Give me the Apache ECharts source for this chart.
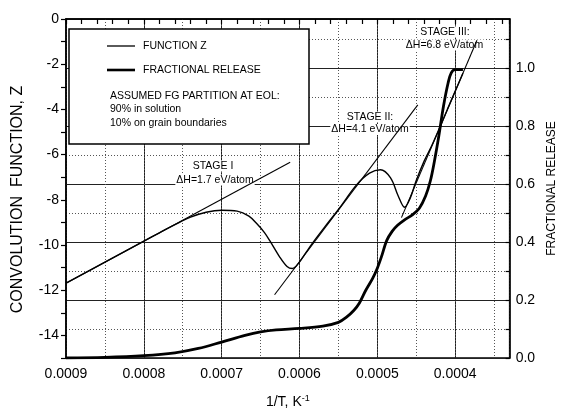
<!DOCTYPE html>
<html>
<head>
<meta charset="UTF-8">
<title>Convolution function and fractional release</title>
<script src="https://cdn.jsdelivr.net/npm/echarts@6.0.0/dist/echarts.min.js"></script>
<style>
  html, body { margin: 0; padding: 0; background: #fff; }
  #chart { width: 566px; height: 414px; }
</style>
</head>
<body>
<div id="chart"></div>
<script>
// convolution function Z vs 1/T (K^-1)
const zInvT = [0.0009, 0.00085, 0.0008, 0.00078, 0.00076, 0.00074, 0.00072, 0.0007, 0.00068, 0.000665,
  0.000655, 0.000645, 0.000638, 0.000626, 0.000616, 0.000609, 0.000601, 0.000592, 0.000584, 0.000568,
  0.000549, 0.000527, 0.00051, 0.000496, 0.000483, 0.000473, 0.000465, 0.000458, 0.00045, 0.00044,
  0.00043, 0.00042, 0.00041, 0.0004, 0.00039];
const zValues = [-11.69, -10.76, -9.83, -9.46, -9.1, -8.77, -8.55, -8.46, -8.5, -8.72,
  -9.05, -9.45, -9.82, -10.5, -10.95, -11.04, -10.8, -10.35, -9.95, -9.22,
  -8.38, -7.35, -6.82, -6.67, -7.03, -7.84, -8.33, -7.95, -7.15, -6.3,
  -5.6, -4.82, -4.0, -3.2, -2.4];

// fractional release vs 1/T
const relInvT = [0.0009, 0.00085, 0.0008, 0.00076, 0.00073, 0.0007, 0.00067, 0.00065, 0.00063, 0.0006,
  0.00057, 0.00055, 0.00054, 0.00053, 0.000523, 0.000515, 0.000506, 0.0005, 0.000494, 0.000488,
  0.000481, 0.000474, 0.000465, 0.000455, 0.000446, 0.000438, 0.000432, 0.000427, 0.000421, 0.000415,
  0.000409, 0.000405, 0.0004, 0.00039];
const relValues = [0.0, 0.002, 0.008, 0.018, 0.033, 0.055, 0.078, 0.09, 0.097, 0.102,
  0.11, 0.123, 0.14, 0.165, 0.19, 0.233, 0.275, 0.31, 0.355, 0.405,
  0.437, 0.458, 0.477, 0.494, 0.517, 0.559, 0.61, 0.674, 0.766, 0.869,
  0.95, 0.984, 0.995, 0.995];

// tangent lines of the three stages (start, end)
const stage1InvT = [0.0009, 0.000612];
const stage1Z = [-11.69, -6.34];
const stage2InvT = [0.000632, 0.000448];
const stage2Z = [-12.2, -3.8];
const stage3InvT = [0.000469, 0.000372];
const stage3Z = [-8.79, -0.94];

const legendNames = ['FUNCTION Z', 'FRACTIONAL RELEASE'];
const noteLines = ['ASSUMED FG PARTITION AT EOL:', '90% in solution', '10% on grain boundaries'];
const stageTitles = ['STAGE I', 'STAGE II:', 'STAGE III:'];
const stageEnergies = ['\u0394H=1.7 eV/atom', '\u0394H=4.1 eV/atom', '\u0394H=6.8 eV/atom'];

const FONT = 'Liberation Sans, Arial, Helvetica, sans-serif';
const SMALL = '10.5px ' + FONT;

// x axis is drawn in units of -1e-4 K^-1 so that it runs 0.0009 -> 0.00033 left to right
const toX = v => -v * 1e4;
const pairs = (xs, ys) => xs.map((x, i) => [toX(x), ys[i]]);

const chart = echarts.init(document.getElementById('chart'));

const xBase = { type: 'value', min: -9, max: -3.3, position: 'bottom' };
const noLine = { show: false };

// text boxes: legend, note and stage labels
const graphics = [
  { type: 'rect', z: 3, shape: { x: 69, y: 29, width: 240, height: 115 },
    style: { fill: '#fff', stroke: '#000', lineWidth: 1.5 } },
  { type: 'line', z: 4, shape: { x1: 107, y1: 46, x2: 135, y2: 46 }, style: { stroke: '#000', lineWidth: 1.3 } },
  { type: 'line', z: 4, shape: { x1: 107, y1: 70, x2: 135, y2: 70 }, style: { stroke: '#000', lineWidth: 2.6 } },
  { type: 'text', z: 4, style: { x: 143, y: 46, text: legendNames[0], verticalAlign: 'middle', font: SMALL, fill: '#000' } },
  { type: 'text', z: 4, style: { x: 143, y: 70, text: legendNames[1], verticalAlign: 'middle', font: SMALL, fill: '#000' } },
  { type: 'text', z: 4, style: { x: 110, y: 96.5, text: noteLines[0], verticalAlign: 'middle', font: SMALL, fill: '#000' } },
  { type: 'text', z: 4, style: { x: 110, y: 109.5, text: noteLines[1], verticalAlign: 'middle', font: SMALL, fill: '#000' } },
  { type: 'text', z: 4, style: { x: 110, y: 123, text: noteLines[2], verticalAlign: 'middle', font: SMALL, fill: '#000' } }
];
const stagePos = [[213, 166, 215, 180], [370, 117, 370, 129.5], [445, 32, 444.5, 45]];
stagePos.forEach((p, i) => {
  graphics.push({
    type: 'text', z: 1, style: { x: p[0], y: p[1], text: stageTitles[i], align: 'center', verticalAlign: 'middle',
      font: SMALL, fill: '#000', backgroundColor: '#fff', padding: [0, 1] }
  });
  graphics.push({
    type: 'text', z: 1, style: { x: p[2], y: p[3], text: stageEnergies[i], align: 'center', verticalAlign: 'middle',
      font: SMALL, fill: '#000', backgroundColor: '#fff', padding: [0, 1] }
  });
});

const option = {
  backgroundColor: '#fff',
  animation: false,
  textStyle: { fontFamily: FONT },
  grid: { left: 66, right: 41, top: 19, bottom: 55, show: true, borderColor: '#000', borderWidth: 1.5 },
  xAxis: [
    // minor ticks every 0.00002
    Object.assign({}, xBase, {
      interval: 0.2,
      axisLine: { lineStyle: { color: '#000', width: 1.5 } },
      axisTick: { show: true, length: 5, lineStyle: { color: '#000', width: 1.2 } },
      axisLabel: { show: false },
      splitLine: { show: false }
    }),
    // labels and solid grid every 0.0001
    Object.assign({}, xBase, {
      interval: 1,
      axisLine: noLine, axisTick: noLine,
      axisLabel: {
        show: true, fontSize: 14, color: '#000', margin: 9, showMaxLabel: false,
        formatter: v => (v < -3.5 ? (-v / 1e4).toFixed(4) : '')
      },
      splitLine: { show: true, lineStyle: { color: '#222', width: 1 } },
      name: '{b|1/T, K}{sup|-1}',
      nameLocation: 'middle', nameGap: 36,
      nameTextStyle: { rich: { b: { fontSize: 14, color: '#000' }, sup: { fontSize: 9, color: '#000', padding: [0, 0, 7, 0] } } }
    }),
    // dotted grid at half steps
    Object.assign({}, xBase, {
      interval: 0.5,
      axisLine: noLine, axisTick: noLine, axisLabel: noLine,
      splitLine: { show: true, lineStyle: { color: '#555', width: 1, type: [1, 2] } }
    })
  ],
  yAxis: [
    {
      type: 'value', position: 'left', min: -15, max: 0, interval: 1,
      axisLine: { show: true, lineStyle: { color: '#000', width: 1.5 } },
      axisTick: { show: true, length: 5, lineStyle: { color: '#000', width: 1.2 } },
      axisLabel: { fontSize: 14, color: '#000', margin: 7, formatter: v => (v % 2 === 0 ? String(v) : '') },
      splitLine: { show: false },
      name: 'CONVOLUTION  FUNCTION, Z',
      nameLocation: 'middle', nameGap: 40, nameRotate: 90,
      nameTextStyle: { fontSize: 16, color: '#000', padding: [0, 22, 0, 0] }
    },
    {
      type: 'value', position: 'right', min: 0, max: 1.17, interval: 0.1,
      axisLine: { show: true, lineStyle: { color: '#000', width: 1.5 } },
      axisTick: { show: true, inside: true, length: 4, lineStyle: { color: '#000', width: 1.2 } },
      axisLabel: {
        fontSize: 14, color: '#000', margin: 6, showMaxLabel: false,
        formatter: v => (Math.round(v * 10) % 2 === 0 && v < 1.05 ? v.toFixed(1) : '')
      },
      splitLine: { show: true, lineStyle: { color: '#555', width: 1, type: [1, 2] } },
      name: 'FRACTIONAL RELEASE',
      nameLocation: 'middle', nameGap: 30, nameRotate: 90,
      nameTextStyle: { fontSize: 12, color: '#000' }
    },
    {
      type: 'value', position: 'right', min: 0, max: 1.17, interval: 0.2,
      axisLine: noLine, axisTick: noLine, axisLabel: noLine,
      splitLine: { show: true, lineStyle: { color: '#222', width: 1 } }
    }
  ],
  graphic: graphics,
  series: [
    {
      name: legendNames[0], type: 'line', xAxisIndex: 0, yAxisIndex: 0,
      data: pairs(zInvT, zValues), smooth: 0.35,
      symbol: 'none', lineStyle: { color: '#000', width: 1.4 }
    },
    {
      name: legendNames[1], type: 'line', xAxisIndex: 0, yAxisIndex: 1,
      data: pairs(relInvT, relValues), smooth: 0.35,
      symbol: 'none', lineStyle: { color: '#000', width: 2.8 }
    },
    { type: 'line', xAxisIndex: 0, yAxisIndex: 0, data: pairs(stage1InvT, stage1Z), symbol: 'none', lineStyle: { color: '#000', width: 1.1 } },
    { type: 'line', xAxisIndex: 0, yAxisIndex: 0, data: pairs(stage2InvT, stage2Z), symbol: 'none', lineStyle: { color: '#000', width: 1.1 } },
    { type: 'line', xAxisIndex: 0, yAxisIndex: 0, data: pairs(stage3InvT, stage3Z), symbol: 'none', lineStyle: { color: '#000', width: 1.1 } }
  ]
};

chart.setOption(option);
</script>
</body>
</html>
